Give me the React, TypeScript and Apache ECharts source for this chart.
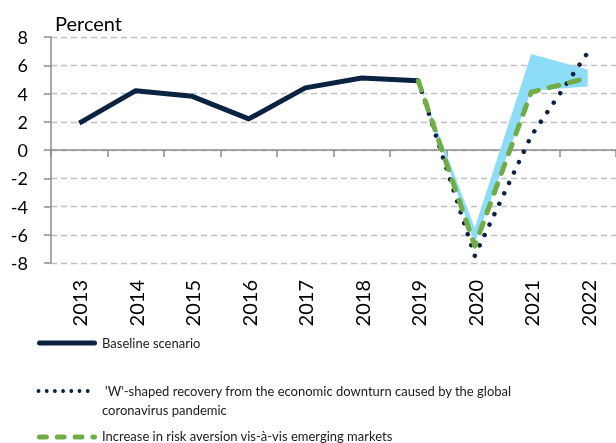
import React, { useEffect, useRef } from "react";
import * as echarts from "echarts";

const years = ["2013", "2014", "2015", "2016", "2017", "2018", "2019", "2020", "2021", "2022"];
const baseline = [1.9, 4.2, 3.8, 2.2, 4.4, 5.1, 4.9, null, null, null];
const wShaped = [null, null, null, null, null, null, 4.9, -7.5, 1.0, 6.9];
const riskAversion = [null, null, null, null, null, null, 4.9, -6.8, 4.1, 5.1];
const bandLower = [null, null, null, null, null, null, 4.9, -6.6, 4.2, 4.5];
const bandUpper = [null, null, null, null, null, null, 4.9, -5.5, 6.8, 5.7];
const yTicks = { min: -8, max: 8, interval: 2 };

const legendBaseline = "Baseline scenario";
const legendW1 = "'W'-shaped recovery from the economic downturn caused by the global";
const legendW2 = "coronavirus pandemic";
const legendRisk = "Increase in risk aversion vis-à-vis emerging markets";

const NAVY = "#0B2242";
const GREEN = "#70AD47";
const BAND = "#8DDCF8";
const AXIS = "#8C8C8C";
const FONT = "Lato";

export default function App() {
  const ref = useRef<HTMLDivElement>(null);
  useEffect(() => {
    if (!ref.current) return;
    const chart = echarts.init(ref.current, null, { renderer: "svg" });
    const toData = (a: (number | null)[]) => a.map((v) => (v === null ? "-" : v));
    const bandDiff = bandUpper.map((u, i) => {
      const l = bandLower[i];
      return u === null || l === null ? "-" : +(u - l).toFixed(3);
    });
    const dots = [];
    for (let i = 0; i < 7; i++) {
      dots.push({
        type: "circle",
        shape: { cx: 38.5 + i * 8.2, cy: 391, r: 1.9 },
        style: { fill: NAVY },
      });
    }
    const option: any = {
      animation: false,
      textStyle: { fontFamily: FONT },
      grid: { left: 51, top: 37, width: 567, height: 226 },
      xAxis: [
        {
          type: "category",
          data: years,
          position: "bottom",
          boundaryGap: true,
          axisLine: { show: true, onZero: true, lineStyle: { color: AXIS, width: 1.5 } },
          axisTick: { show: true, length: 7, lineStyle: { color: AXIS, width: 1.5 } },
          axisLabel: { show: false },
          splitLine: { show: false },
        },
        {
          type: "category",
          data: years,
          position: "bottom",
          boundaryGap: true,
          axisLine: { show: false, onZero: false },
          axisTick: { show: false },
          axisLabel: { show: true, rotate: 90, fontSize: 20, color: "#000", margin: 17, fontFamily: FONT },
          splitLine: { show: false },
        },
      ],
      yAxis: {
        type: "value",
        min: yTicks.min,
        max: yTicks.max,
        interval: yTicks.interval,
        axisLine: { show: true, lineStyle: { color: AXIS, width: 1.5 } },
        axisTick: { show: true, length: 7, lineStyle: { color: AXIS, width: 1.5 } },
        axisLabel: { fontSize: 18, color: "#000", margin: 23, fontFamily: FONT },
        splitLine: { show: true, lineStyle: { color: "#C0C0C0", width: 1.3, type: [6, 4] } },
      },
      series: [
        {
          name: "bandLower",
          type: "line",
          stack: "band",
          stackStrategy: "all",
          data: toData(bandLower),
          symbol: "none",
          lineStyle: { width: 0, opacity: 0 },
          z: 1,
        },
        {
          name: "bandRange",
          type: "line",
          stack: "band",
          stackStrategy: "all",
          data: bandDiff,
          symbol: "none",
          lineStyle: { width: 0, opacity: 0 },
          areaStyle: { color: BAND, opacity: 1 },
          z: 1,
        },
        {
          name: legendBaseline,
          type: "line",
          data: toData(baseline),
          symbol: "none",
          lineStyle: { color: NAVY, width: 5, join: "round", cap: "butt" },
          z: 3,
        },
        {
          name: legendW1,
          type: "line",
          data: toData(wShaped),
          symbol: "none",
          lineStyle: { color: NAVY, width: 4.5, type: [0.01, 11.5], cap: "round", join: "round" },
          z: 4,
        },
        {
          name: legendRisk,
          type: "line",
          data: toData(riskAversion),
          symbol: "none",
          lineStyle: { color: GREEN, width: 5, type: [10, 11], cap: "round", join: "round" },
          z: 5,
        },
      ],
      graphic: [
        {
          type: "text",
          x: 55,
          y: 23,
          style: { text: "Percent", fontSize: 20, fontFamily: FONT, fill: "#000", verticalAlign: "middle" },
        },
        {
          type: "line",
          shape: { x1: 39.5, y1: 343, x2: 94.5, y2: 343 },
          style: { stroke: NAVY, lineWidth: 5, lineCap: "round" },
        },
        {
          type: "text",
          x: 102,
          y: 343,
          style: { text: legendBaseline, fontSize: 13, fontFamily: FONT, fill: "#1a1a1a", verticalAlign: "middle" },
        },
        ...dots,
        {
          type: "text",
          x: 105,
          y: 391,
          style: { text: legendW1, fontSize: 13, fontFamily: FONT, fill: "#1a1a1a", verticalAlign: "middle" },
        },
        {
          type: "text",
          x: 102,
          y: 410,
          style: { text: legendW2, fontSize: 13, fontFamily: FONT, fill: "#1a1a1a", verticalAlign: "middle" },
        },
        {
          type: "line",
          shape: { x1: 39.5, y1: 437, x2: 94.5, y2: 437 },
          style: { stroke: GREEN, lineWidth: 5, lineCap: "round", lineDash: [6.8, 11] },
        },
        {
          type: "text",
          x: 102,
          y: 436,
          style: { text: legendRisk, fontSize: 13, fontFamily: FONT, fill: "#1a1a1a", verticalAlign: "middle" },
        },
      ],
    };
    chart.setOption(option);
    return () => chart.dispose();
  }, []);
  return (
    <div
      ref={ref}
      style={{ position: "fixed", left: 0, top: 0, width: 616, height: 443 }}
    />
  );
}
